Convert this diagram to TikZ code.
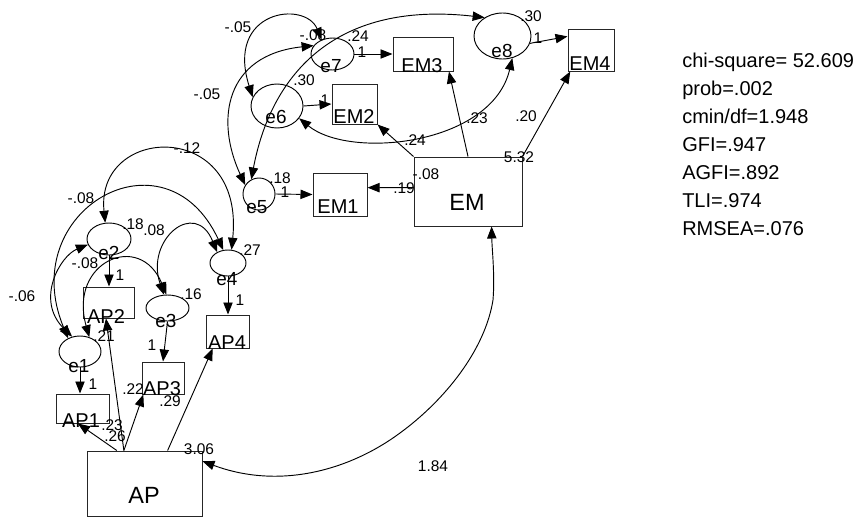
\documentclass[tikz,border=0pt]{standalone}
\usepackage{fontspec}
\setmainfont{Liberation Sans}
\usetikzlibrary{arrows.meta,shapes.geometric}
\begin{document}
\begin{tikzpicture}[x=0.75pt,y=-0.75pt,
  sz/.style 2 args={minimum width=#1*0.75pt,minimum height=#2*0.75pt},
  box/.style={draw=black!85,line width=0.75pt,rectangle,inner sep=0pt},
  ell/.style={draw=black,line width=0.7pt,ellipse,inner sep=0pt},
  tip/.style={-{Triangle[length=9pt,width=7pt]}},
  reg/.style={line width=0.7pt,tip},
  cov/.style={line width=0.7pt,{Triangle[length=9pt,width=7pt]}-{Triangle[length=9pt,width=7pt]}},
  lab/.style={anchor=base,inner sep=0pt,font=\fontsize{11.6}{13}\selectfont},
  elab/.style={anchor=base,inner sep=0pt,font=\fontsize{14.2}{16}\selectfont},
  blab/.style={anchor=base,inner sep=0pt,font=\fontsize{15}{17}\selectfont},
  big/.style={anchor=base,inner sep=0pt,font=\fontsize{17.6}{20}\selectfont},
  fit/.style={anchor=base west,inner sep=0pt,font=\fontsize{15}{17}\selectfont}]
\useasboundingbox (0,0) rectangle (867,518);

% boxes
\node[box,sz={60}{34}] (EM3) at (423,54) {};
\node[box,sz={46}{42}] (EM4) at (591,50) {};
\node[box,sz={45}{40}] (EM2) at (354.5,104) {};
\node[box,sz={54}{43}] (EM1) at (340,194.5) {};
\node[box,sz={108}{69}] (EM) at (468,191.5) {};
\node[box,sz={53}{29}] (AP1) at (82.5,408.5) {};
\node[box,sz={51}{31}] (AP2) at (108.5,302.5) {};
\node[box,sz={42}{32}] (AP3) at (163,378) {};
\node[box,sz={43}{33}] (AP4) at (227.5,331.5) {};
\node[box,sz={115}{65}] (AP) at (144.5,483.5) {};

% ellipses
\node[ell,sz={43}{32}] (e7) at (332.5,54) {};
\node[ell,sz={57}{46}] (e8) at (502.5,36) {};
\node[ell,sz={52}{44}] (e6) at (277,106) {};
\node[ell,sz={32}{32}] (e5) at (259,194) {};
\node[ell,sz={44}{32}] (e2) at (109,239) {};
\node[ell,sz={36}{26}] (e4) at (228,263) {};
\node[ell,sz={43}{26}] (e3) at (167.5,308) {};
\node[ell,sz={42}{31}] (e1) at (80,351.5) {};

% box labels
\node[blab] (tEM3) at (422,72) {EM3};
\node[blab] (tEM4) at (590,70) {EM4};
\node[blab] (tEM2) at (354,123) {EM2};
\node[blab] (tEM1) at (338,213) {EM1};
\node[big] (tEM) at (467,210) {EM};
\node[blab] (tAP1) at (81,427) {AP1};
\node[blab] (tAP2) at (106,323) {AP2};
\node[blab] (tAP3) at (162,395) {AP3};
\node[blab] (tAP4) at (227,349) {AP4};
\node[big] (tAP) at (144,503) {AP};

% ellipse labels
\node[elab] (te7) at (331,72) {e7};
\node[elab] (te8) at (502,57) {e8};
\node[elab] (te6) at (276,123) {e6};
\node[elab] (te5) at (257,213) {e5};
\node[elab] (te2) at (109,259) {e2};
\node[elab] (te4) at (227,285) {e4};
\node[elab] (te3) at (166,327) {e3};
\node[elab] (te1) at (79,372) {e1};

% error -> indicator
\draw[reg] (e7.east) -- (EM3.west);
\draw[reg] (e8.-15) -- (EM4.150);
\draw[reg] (e6.east) -- (EM2.west);
\draw[reg] (e5.east) -- (EM1.west);
\draw[reg] (e2.south) -- (e2.south |- AP2.north);
\draw[reg] (e4.south) -- (e4.south |- AP4.north);
\draw[reg] (e3.south) -- (AP3.north);
\draw[reg] (e1.south) -- (e1.south |- AP1.north);

% factor loadings
\draw[reg] (EM.176) -- (EM1.14);
\draw[reg] (EM.north west) -- (EM2.south east);
\draw[reg] (EM.north) -- (EM3.-34);
\draw[reg] (EM.north east) -- (EM4.226);
\draw[reg] (AP.130) -- (AP1.253);
\draw[reg] (AP.122) -- (AP2.261);
\draw[reg] (AP.122) -- (AP3.220);
\draw[reg] (AP.55) -- (AP4.229);

% covariances
\draw[cov] (e6.160) .. controls (225,10) and (305,0) .. (e7.127);
\draw[cov] (e5.147) .. controls (215,120) and (225,55) .. (e7.156);
\draw[cov] (e5.118) .. controls (270,80) and (330,0) .. (e8.134);
\draw[cov] (e6.-29) .. controls (350,160) and (492,145) .. (e8.-66);
\draw[cov] (e2.103) .. controls (95,125) and (245,118) .. (e4.75);
\draw[cov] (e1.132) .. controls (15,210) and (165,125) .. (e4.110);
\draw[cov] (e2.195) .. controls (60,256) and (35,300) .. (e1.118);
\draw[cov] (e1.57) .. controls (68,262) and (140,230) .. (e3.95);
\draw[cov] (e3.105) .. controls (145,240) and (195,198) .. (e4.135);
\draw[cov] (AP.21) .. controls (280,490) and (350,470) .. (400,433)
  .. controls (445,400) and (485,350) .. (493,300)
  .. controls (495,275) and (492,250) .. (EM.-56);

% numeric labels
\node[lab] (n1) at (238,32) {-.05};
\node[lab] (n2) at (313,40) {-.08};
\node[lab] (n3) at (358,41) {.24};
\node[lab] (n4) at (362,57) {1};
\node[lab] (n5) at (531,21) {.30};
\node[lab] (n6) at (538,43) {1};
\node[lab] (n7) at (304,85) {.30};
\node[lab] (n8) at (325,105) {1};
\node[lab] (n9) at (207,99) {-.05};
\node[lab] (n10) at (415,145) {.24};
\node[lab] (n11) at (426,179) {-.08};
\node[lab] (n12) at (404,193) {.19};
\node[lab] (n13) at (280,183) {.18};
\node[lab] (n14) at (285,197) {1};
\node[lab] (n15) at (477,123) {.23};
\node[lab] (n16) at (526,121) {.20};
\node[lab] (n17) at (519,162) {5.32};
\node[lab] (n18) at (187,153) {-.12};
\node[lab] (n19) at (81,203) {-.08};
\node[lab] (n20) at (133,229) {.18};
\node[lab] (n21) at (154,235) {.08};
\node[lab] (n22) at (250,255) {.27};
\node[lab] (n23) at (85,268) {-.08};
\node[lab] (n24) at (120,280) {1};
\node[lab] (n25) at (22,301) {-.06};
\node[lab] (n26) at (191,299) {.16};
\node[lab] (n27) at (240,305) {1};
\node[lab] (n28) at (104,341) {.21};
\node[lab] (n29) at (152,350) {1};
\node[lab] (n30) at (93,389) {1};
\node[lab] (n31) at (133,394) {.22};
\node[lab] (n32) at (170,406) {.29};
\node[lab] (n33) at (112,430) {.23};
\node[lab] (n34) at (115,441) {.26};
\node[lab] (n35) at (199,454) {3.06};
\node[lab] (n36) at (433,471) {1.84};

% fit statistics
\node[fit] (f1) at (682,67) {chi-square= 52.609};
\node[fit] (f2) at (682,95) {prob=.002};
\node[fit] (f3) at (682,123) {cmin/df=1.948};
\node[fit] (f4) at (682,151) {GFI=.947};
\node[fit] (f5) at (682,179) {AGFI=.892};
\node[fit] (f6) at (682,207) {TLI=.974};
\node[fit] (f7) at (682,235) {RMSEA=.076};
\end{tikzpicture}
\end{document}
